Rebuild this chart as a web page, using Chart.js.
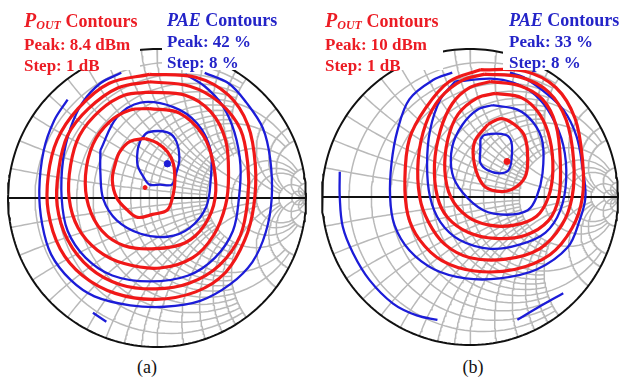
<!DOCTYPE html>
<html><head><meta charset="utf-8">
<script src="https://cdn.jsdelivr.net/npm/chart.js@4.4.0/dist/chart.umd.min.js"></script>
<style>
html,body{margin:0;padding:0;background:#fff;width:621px;height:381px;overflow:hidden;}
body{position:relative;font-family:"Liberation Serif","Times New Roman",serif;}
canvas{position:absolute;z-index:0;}
#cA{left:2px;top:43px;}
#cB{left:315px;top:42px;}
.box{position:absolute;top:10px;font-weight:bold;font-size:17px;line-height:21px;white-space:nowrap;z-index:11;}
.red{color:#ec1c24}.blue{color:#2424c8}
.ttl{font-size:18px}
.P{font-style:italic;font-size:20px}
.sub{font-style:italic;font-size:12px;position:relative;top:2px}
.it{font-style:italic}
.cap{position:absolute;top:356px;width:80px;text-align:center;font-size:18px;line-height:22px;color:#111;}
</style></head>
<body>
<canvas id="cA" width="310" height="310"></canvas>
<canvas id="cB" width="310" height="310"></canvas>

<div class="box red" style="left:24px;">
<div class="ttl"><span class="P">P</span><span class="sub">OUT</span> Contours</div>
<div>Peak: 8.4 dBm</div><div>Step: 1 dB</div></div>
<div class="box blue" style="left:167px;">
<div class="ttl"><span class="it">PAE</span> Contours</div>
<div>Peak: 42 %</div><div>Step: 8 %</div></div>

<div class="box red" style="left:325px;">
<div class="ttl"><span class="P">P</span><span class="sub">OUT</span> Contours</div>
<div>Peak: 10 dBm</div><div>Step: 1 dB</div></div>
<div class="box blue" style="left:509px;">
<div class="ttl"><span class="it">PAE</span> Contours</div>
<div>Peak: 33 %</div><div>Step: 8 %</div></div>

<div class="cap" style="left:107px;">(a)</div>
<div class="cap" style="left:433px;">(b)</div>

<script>
// ---- Smith chart grid values (normalized resistance / reactance) and their drawn extents
const gridR     = [0.1,0.2,0.3,0.4,0.5,0.6,0.7,0.8,0.9,1.0,1.2,1.4,1.6,1.8,2.0,3,4,5,10,20,50];
const gridRSpan = [2,2,2,2,5,2,2,2,2,5,2,2,2,2,10,10,10,20,50,1e9,1e9];
const gridX     = [0.1,0.2,0.3,0.4,0.5,0.6,0.7,0.8,0.9,1.0,1.2,1.4,1.6,1.8,2.0,3,4,5,10,20,50];
const gridXSpan = [2,2,2,2,5,2,2,2,2,5,2,2,2,2,10,10,10,20,50,1e9,1e9];

// ---- (a) contours, reflection coefficient [Re, Im]
const poutA1 = [[-0.08,0.40],[0,0.37],[0.07,0.31],[0.11,0.23],[0.12,0.12],[0.11,0.03],[0.07,-0.08],[-0.03,-0.11],[-0.13,-0.13],[-0.20,-0.08],[-0.27,0],[-0.30,0.12],[-0.28,0.23],[-0.25,0.31],[-0.18,0.38],[-0.08,0.40]];
const poutA2 = [[-0.05,0.60],[0.15,0.57],[0.31,0.42],[0.38,0.22],[0.39,0],[0.32,-0.18],[0.19,-0.30],[-0.01,-0.34],[-0.22,-0.32],[-0.37,-0.22],[-0.46,-0.05],[-0.48,0.15],[-0.43,0.36],[-0.32,0.51],[-0.18,0.59],[-0.05,0.60]];
const poutA3 = [[-0.05,0.71],[0.19,0.69],[0.36,0.58],[0.46,0.39],[0.48,0.15],[0.46,-0.05],[0.38,-0.25],[0.24,-0.40],[0.02,-0.47],[-0.22,-0.44],[-0.40,-0.35],[-0.53,-0.20],[-0.59,0],[-0.58,0.22],[-0.52,0.42],[-0.38,0.59],[-0.22,0.69],[-0.05,0.71]];
const poutA4 = [[-0.05,0.78],[0.22,0.75],[0.42,0.64],[0.56,0.46],[0.61,0.22],[0.61,0],[0.56,-0.25],[0.42,-0.45],[0.22,-0.57],[-0.01,-0.61],[-0.25,-0.58],[-0.45,-0.47],[-0.60,-0.28],[-0.67,-0.05],[-0.66,0.19],[-0.60,0.42],[-0.46,0.60],[-0.26,0.74],[-0.05,0.78]];
const poutA5 = [[-0.05,0.83],[0.26,0.81],[0.48,0.69],[0.61,0.49],[0.66,0.22],[0.65,-0.05],[0.59,-0.28],[0.46,-0.50],[0.26,-0.63],[-0.01,-0.68],[-0.28,-0.64],[-0.50,-0.52],[-0.65,-0.34],[-0.73,-0.09],[-0.73,0.15],[-0.67,0.39],[-0.53,0.60],[-0.32,0.77],[-0.05,0.83]];
const paeA1 = [[-0.11,0.39],[-0.06,0.44],[0.07,0.44],[0.13,0.38],[0.15,0.26],[0.13,0.17],[0.10,0.09],[0.02,0.09],[-0.05,0.09],[-0.09,0.14],[-0.13,0.22],[-0.13,0.32],[-0.11,0.39]];
const paeA2 = [[-0.38,0.32],[-0.27,0.54],[-0.11,0.64],[0.11,0.61],[0.27,0.50],[0.36,0.32],[0.36,0.12],[0.33,-0.06],[0.22,-0.20],[0.07,-0.26],[-0.11,-0.24],[-0.27,-0.15],[-0.36,-0.01],[-0.38,0.17],[-0.38,0.32]];
const paeA3 = [[-0.24,0.84],[-0.38,0.77],[-0.50,0.64],[-0.58,0.47],[-0.63,0.26],[-0.64,0],[-0.60,-0.22],[-0.48,-0.40],[-0.30,-0.52],[-0.05,-0.56],[0.21,-0.52],[0.39,-0.40],[0.51,-0.22],[0.55,0],[0.56,0.22],[0.52,0.44],[0.44,0.62],[0.32,0.75],[0.19,0.83]];
const paeA4 = [[-0.60,0.66],[-0.69,0.52],[-0.76,0.32],[-0.79,0.05],[-0.77,-0.18],[-0.71,-0.38],[-0.58,-0.55],[-0.42,-0.66],[-0.18,-0.72],[0.05,-0.73],[0.29,-0.69],[0.49,-0.58],[0.64,-0.43],[0.73,-0.23],[0.77,0],[0.76,0.26],[0.71,0.47],[0.60,0.64],[0.48,0.77],[0.32,0.84]];
const paeA5 = [[-0.43,-0.77],[-0.34,-0.83]];
const peakPoutA = [[-0.08,0.07]];
const peakPaeA  = [[0.07,0.23]];

// ---- (b) contours
const poutB1 = [[0.12,0.49],[0.21,0.53],[0.30,0.49],[0.37,0.41],[0.39,0.25],[0.37,0.13],[0.28,0.05],[0.18,0.04],[0.09,0.08],[0.03,0.22],[0.03,0.37],[0.12,0.49]];
const poutB2 = [[0.17,0.70],[0.35,0.67],[0.47,0.56],[0.54,0.39],[0.56,0.18],[0.53,0],[0.45,-0.13],[0.30,-0.19],[0.13,-0.19],[-0.02,-0.13],[-0.13,0],[-0.17,0.18],[-0.15,0.39],[-0.08,0.56],[0.05,0.67],[0.17,0.70]];
const poutB3 = [[0.14,0.78],[0.34,0.75],[0.49,0.66],[0.58,0.49],[0.61,0.25],[0.60,0],[0.53,-0.16],[0.37,-0.26],[0.17,-0.28],[-0.01,-0.24],[-0.15,-0.14],[-0.22,0],[-0.24,0.22],[-0.20,0.45],[-0.12,0.63],[0,0.74],[0.14,0.78]];
const poutB4 = [[0.10,0.83],[0.34,0.81],[0.53,0.71],[0.65,0.52],[0.70,0.25],[0.69,0],[0.62,-0.19],[0.47,-0.35],[0.24,-0.42],[0,-0.41],[-0.17,-0.32],[-0.28,-0.17],[-0.34,0],[-0.35,0.25],[-0.30,0.49],[-0.20,0.67],[-0.05,0.79],[0.10,0.83]];
const poutB5 = [[0.07,0.86],[0.37,0.85],[0.58,0.74],[0.71,0.53],[0.76,0.25],[0.76,0],[0.69,-0.21],[0.54,-0.39],[0.30,-0.49],[0.03,-0.50],[-0.19,-0.43],[-0.34,-0.29],[-0.42,-0.12],[-0.44,0.12],[-0.41,0.39],[-0.30,0.60],[-0.14,0.78],[0.07,0.86]];
const paeB1 = [[0.07,0.39],[0.10,0.42],[0.24,0.42],[0.28,0.37],[0.28,0.25],[0.26,0.18],[0.20,0.16],[0.12,0.18],[0.07,0.23],[0.07,0.32],[0.07,0.39]];
const paeB2 = [[0.15,0.62],[0.32,0.59],[0.43,0.50],[0.49,0.37],[0.49,0.16],[0.45,0],[0.39,-0.09],[0.25,-0.12],[0.09,-0.09],[-0.05,0.03],[-0.12,0.16],[-0.12,0.34],[-0.05,0.49],[0.05,0.59],[0.15,0.62]];
const paeB3 = [[-0.10,0.78],[-0.20,0.66],[-0.27,0.45],[-0.29,0.22],[-0.27,0],[-0.20,-0.17],[-0.07,-0.29],[0.14,-0.35],[0.34,-0.32],[0.51,-0.24],[0.61,-0.09],[0.65,0.12],[0.63,0.35],[0.55,0.55],[0.44,0.69],[0.30,0.77],[0.14,0.80],[-0.10,0.78]];
const paeB4 = [[-0.12,0.84],[-0.25,0.79],[-0.41,0.66],[-0.49,0.45],[-0.53,0.23],[-0.54,0],[-0.51,-0.19],[-0.41,-0.36],[-0.24,-0.49],[-0.03,-0.55],[0.20,-0.55],[0.45,-0.49],[0.66,-0.34],[0.74,-0.16],[0.78,0],[0.76,0.20],[0.72,0.41],[0.63,0.59],[0.49,0.72],[0.36,0.81],[0.27,0.84]];
const paeB5a = [[-0.88,0.17],[-0.88,0],[-0.86,-0.20],[-0.79,-0.38],[-0.68,-0.56],[-0.52,-0.72],[-0.36,-0.80],[-0.22,-0.83]];
const paeB5b = [[0.32,-0.83],[0.47,-0.74],[0.63,-0.65]];
const peakPoutB = [[0.25,0.24]];
const peakPaeB  = [[0.25,0.24]];

const RED = '#f01818', BLUE = '#1c1cd8', GRID = '#b9b9b9';

function G(r, x){ const d=(r+1)*(r+1)+x*x; return {x:(r*r+x*x-1)/d, y:2*x/d}; }
function xy(arr){ return arr.map(p=>({x:p[0], y:p[1]})); }

function gridSets(){
  const ds=[];
  const N=90;
  gridR.forEach((r,i)=>{
    const a=Math.atan(gridRSpan[i]), pts=[];
    for(let k=0;k<=N;k++){ const ph=-a+2*a*k/N; pts.push(G(r, Math.tan(Math.max(-1.5706,Math.min(1.5706,ph))))); }
    ds.push({data:pts});
  });
  gridX.forEach((xv,i)=>{
    const a=Math.atan(gridXSpan[i]);
    [1,-1].forEach(s=>{
      const pts=[];
      for(let k=0;k<=N;k++){ const ps=Math.min(1.5706,a*k/N); pts.push(G(Math.tan(ps), s*xv)); }
      ds.push({data:pts});
    });
  });
  return ds.map(d=>Object.assign(d,{showLine:true,borderColor:GRID,borderWidth:1.5,pointRadius:0,tension:0,order:20}));
}
function frameSets(){
  const circ=[]; const N=240;
  for(let k=0;k<=N;k++){ const t=2*Math.PI*k/N; circ.push({x:Math.cos(t),y:Math.sin(t)}); }
  return [
    {data:circ,showLine:true,borderColor:'#111',borderWidth:2,pointRadius:0,order:10},
    {data:[{x:-1,y:0},{x:1,y:0}],showLine:true,borderColor:'#111',borderWidth:2.2,pointRadius:0,order:10}
  ];
}
function line(arr,color,w){ return {data:xy(arr),showLine:true,borderColor:color,borderWidth:w,pointRadius:0,tension:0.35,order:1}; }
function dot(arr,color,r){ return {data:xy(arr),showLine:false,backgroundColor:color,borderColor:color,pointRadius:r,order:0}; }

// white legend boxes (canvas-pixel rectangles [x0, x1, y1]) that hide the chart under the text
const coverPlugin = {
  id:'cover',
  afterDraw(chart, args, opts){
    const ctx = chart.ctx;
    ctx.save(); ctx.fillStyle = '#ffffff';
    opts.rects.forEach(r => ctx.fillRect(r[0], 0, r[1]-r[0], r[2]));
    ctx.restore();
  }
};

function makeChart(id, lim, reds, blues, dots, rects){
  const ds=[...gridSets(), ...frameSets()];
  reds.forEach(a=>ds.push(line(a,RED,3.2)));
  blues.forEach(a=>ds.push(line(a,BLUE,2.3)));
  dots.forEach(d=>ds.push(d));
  new Chart(document.getElementById(id), {
    type:'scatter',
    data:{datasets:ds},
    plugins:[coverPlugin],
    options:{
      responsive:false, animation:false, devicePixelRatio:1, events:[],
      layout:{padding:0, autoPadding:false},
      plugins:{legend:{display:false},tooltip:{enabled:false},cover:{rects:rects}},
      scales:{
        x:{type:'linear',min:-lim,max:lim,display:false},
        y:{type:'linear',min:-lim,max:lim,display:false}
      }
    }
  });
}

makeChart('cA', 155/149,
  [poutA1,poutA2,poutA3,poutA4,poutA5],
  [paeA1,paeA2,paeA3,paeA4,paeA5],
  [dot(peakPoutA,RED,2), dot(peakPaeA,BLUE,3.2)],
  [[13,138,27],[160,280,27]]);
makeChart('cB', 155/148,
  [poutB1,poutB2,poutB3,poutB4,poutB5],
  [paeB1,paeB2,paeB3,paeB4,paeB5a,paeB5b],
  [dot(peakPoutB,RED,3), dot(peakPaeB,'#5a1a9a',2)],
  [[2,128,28],[188,306,28]]);
</script>
</body></html>
